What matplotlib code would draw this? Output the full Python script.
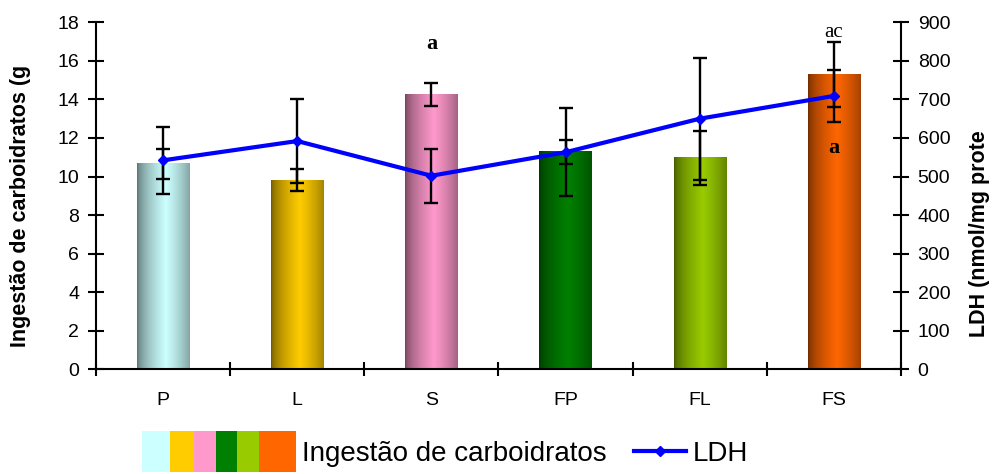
import numpy as np
import matplotlib.pyplot as plt
from matplotlib.patches import Rectangle
from matplotlib.lines import Line2D
from matplotlib.colors import to_rgb

# dados
grupos = ['P', 'L', 'S', 'FP', 'FL', 'FS']
ingestao = [10.65, 9.8, 14.26, 11.27, 10.96, 15.3]
ingestao_err = [0.78, 0.57, 0.59, 0.62, 1.4, 1.69]
ldh = [542, 592, 502, 563, 650, 709]
ldh_err = [87, 108, 70, 114, 158, 67]
cores = ['#CCFFFF', '#FFCC00', '#FF99CC', '#008000', '#99CC00', '#FF6600']
legenda_frac = [0.18, 0.16, 0.14, 0.14, 0.14, 0.24]

plt.rcParams['font.family'] = ['Liberation Sans', 'DejaVu Sans']

fig = plt.figure(figsize=(9.93, 4.74), dpi=100)
ax = fig.add_axes([96 / 993, 1 - 369.3 / 474, (901 - 96) / 993, (369.3 - 22.3) / 474])
ax2 = ax.twinx()

x = np.arange(len(grupos))
largura = 0.39


def gradiente(cor, n=60):
    # efeito de cilindro: bordas escuras, centro claro
    t = np.linspace(0, 1, n)
    perfil = np.clip(1 - np.abs(t - 0.55) / 0.55, 0, 1) ** 0.6
    fator = 0.45 + 0.55 * perfil
    rgb = np.array(to_rgb(cor))
    return (fator[:, None] * rgb[None, :])[None, :, :]


for xi, h, cor in zip(x, ingestao, cores):
    ax.imshow(gradiente(cor), extent=(xi - largura / 2, xi + largura / 2, 0, h),
              aspect='auto', interpolation='bilinear', zorder=2)

ax.errorbar(x, ingestao, yerr=ingestao_err, fmt='none', ecolor='black',
            elinewidth=1.7, capsize=5, capthick=1.7, zorder=3)

ax2.plot(x, ldh, color='#0000FF', lw=3, marker='D', markersize=5, zorder=4)
ax2.errorbar(x, ldh, yerr=ldh_err, fmt='none', ecolor='black',
             elinewidth=1.7, capsize=5, capthick=1.7, zorder=3)

ax.set_xlim(-0.5, 5.5)
ax.set_ylim(0, 18)
ax2.set_ylim(0, 900)
ax.set_yticks(np.arange(0, 19, 2))
ax2.set_yticks(np.arange(0, 901, 100))
ax.set_xticks(x)
ax.set_xticklabels(grupos)
ax.set_xticks(np.arange(-0.5, 6, 1), minor=True)

for a in (ax, ax2):
    a.spines['top'].set_visible(False)
    for s in ('left', 'right', 'bottom'):
        a.spines[s].set_linewidth(1.5)
ax.spines['right'].set_visible(False)
ax2.spines['left'].set_visible(False)
ax2.spines['bottom'].set_visible(False)
ax2.patch.set_visible(False)

ax.tick_params(axis='y', direction='inout', length=12, width=1.5, labelsize=14, pad=6)
ax2.tick_params(axis='y', direction='inout', length=12, width=1.5, labelsize=14, pad=6)
ax.tick_params(axis='x', which='major', length=0, labelsize=14, pad=16)
ax.tick_params(axis='x', which='minor', direction='inout', length=10, width=1.5)

fig.text(21 / 993, 1 - 347 / 474, 'Ingestão de carboidratos (g', rotation=90,
         ha='center', va='bottom', fontsize=15.5, fontweight='bold')
fig.text(980 / 993, 1 - 337 / 474, 'LDH (nmol/mg prote', rotation=90,
         ha='center', va='bottom', fontsize=15.5, fontweight='bold')

# letras de significancia
ax.text(2, 16.9, 'a', ha='center', va='center', family='Liberation Serif',
        fontweight='bold', fontsize=16)
ax.text(5, 17.45, 'ac', ha='center', va='center', family='Liberation Serif',
        fontsize=15)
ax.text(5, 11.5, 'a', ha='center', va='center', family='Liberation Serif',
        fontweight='bold', fontsize=16)


class BlocoCores:
    def legend_artist(self, legend, orig_handle, fontsize, handlebox):
        x0, y0 = -handlebox.xdescent, -handlebox.ydescent
        w, h = handlebox.width, handlebox.height
        pos = 0
        for cor, f in zip(cores, legenda_frac):
            r = Rectangle((x0 + pos * w, y0 - h * 0.55), f * w, h * 2.1,
                          facecolor=cor, edgecolor='none',
                          transform=handlebox.get_transform())
            handlebox.add_artist(r)
            pos += f
        return r


fs_leg = 20
px = fs_leg * 100 / 72
leg1 = fig.legend([Rectangle((0, 0), 1, 1)], ['Ingestão de carboidratos'],
                  handler_map={Rectangle: BlocoCores()},
                  loc='center left', bbox_to_anchor=(142 / 993, 1 - 454 / 474),
                  frameon=False, fontsize=fs_leg, borderpad=0, borderaxespad=0,
                  handlelength=154 / px, handletextpad=6 / px)
leg2 = fig.legend([Line2D([], [], color='#0000FF', lw=3, marker='D', markersize=5)],
                  ['LDH'], loc='center left',
                  bbox_to_anchor=(634 / 993, 1 - 454 / 474),
                  frameon=False, fontsize=fs_leg, borderpad=0, borderaxespad=0,
                  handlelength=52 / px, handletextpad=7 / px)

fig.savefig('out.png', dpi=100)
